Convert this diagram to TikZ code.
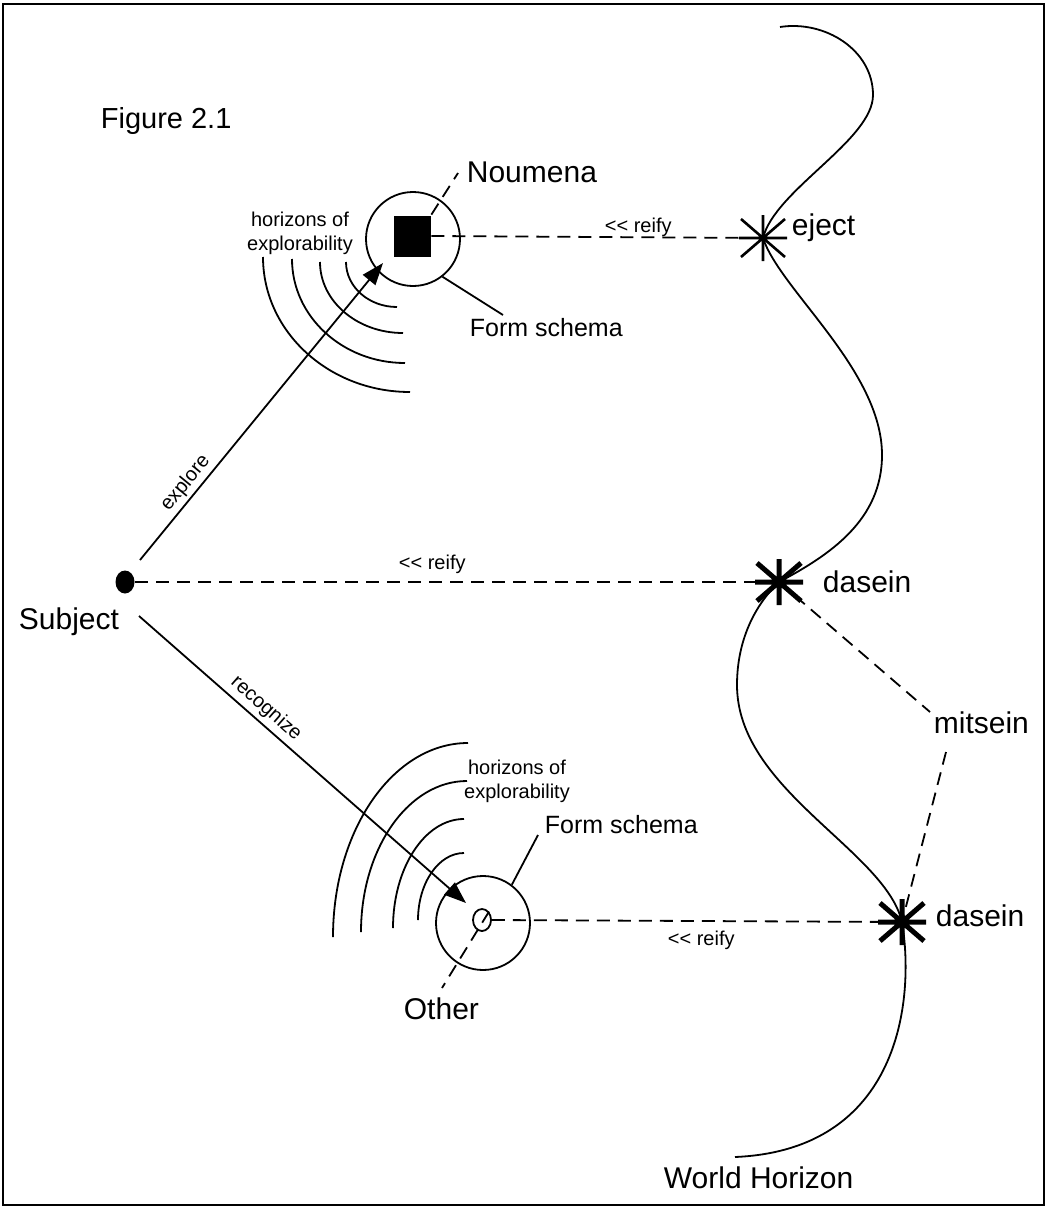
\documentclass[tikz,border=0pt]{standalone}
\usepackage{fontspec}
\setmainfont{Liberation Sans}
\usetikzlibrary{arrows.meta,shapes.geometric,calc}

\begin{document}
\begin{tikzpicture}[
x=1pt, y=-1pt,
line width=1.8pt,
lbl/.style={inner sep=0pt, anchor=base west, font=\fontsize{30}{36}\selectfont},
midlbl/.style={lbl, font=\fontsize{25}{30}\selectfont},
smalllbl/.style={inner sep=0pt, font=\fontsize{20}{24}\selectfont},
link/.style={dash pattern=on 13pt off 8pt},
arrowln/.style={-{Triangle[length=22pt,width=16pt]}},
schema/.style={draw, circle, minimum size=94pt, inner sep=0pt},
dot/.style={ellipse, inner sep=0pt, minimum width=19pt, minimum height=23pt}
]
\useasboundingbox (0,0) rectangle (1047,1207);
\draw[line width=2pt] (3,4) rectangle (1044,1205);

\node[lbl, font=\fontsize{29}{35}\selectfont] (fig) at (100,128) {Figure 2.1};

% the world horizon and the points on it
\coordinate (eject) at (763,238);
\coordinate (daseinA) at (779,582);
\coordinate (daseinB) at (902,922);
\draw (780,27) .. controls (825,20) and (873,50) .. (873,95)
  .. controls (873,140) and (775,190) .. (eject)
  .. controls (780,290) and (882,370) .. (882,455)
  .. controls (882,520) and (830,555) .. (daseinA)
  .. controls (755,605) and (737,640) .. (737,685)
  .. controls (737,790) and (885,850) .. (daseinB)
  .. controls (915,1000) and (900,1150) .. (735,1157);

% subject
\node[dot, fill=black] (subject) at (125,582) {};
\node[lbl] (subject-lbl) at (18,629) {Subject};

% noumena with its form schema
\node[schema] (fsa) at (413,239) {};
\node[fill=black, inner sep=0pt, minimum width=37pt, minimum height=41pt] (noumena) at (412,236) {};
\node[lbl] (noumena-lbl) at (466,182) {Noumena};
\node[midlbl] (fsa-lbl) at (469,336) {Form schema};
\coordinate (nou-tip) at (458,173);
\coordinate (fsa-tip) at (503,315);
\draw[link] (noumena.north east) -- (nou-tip);
\draw (fsa.-52) -- (fsa-tip);
\node[smalllbl, align=center] (hza) at (300,233) {horizons of\\explorability};
\foreach \sx/\sy/\rx/\ry in {263/257/147/135, 292/259/113/104, 320/262/83/71, 346/262/51/45}
  \draw (\sx,\sy) arc[start angle=180, end angle=270, x radius=\rx pt, y radius=\ry pt];

% the other with its form schema
\node[schema] (fsb) at (483,923) {};
\node[dot, draw, minimum width=18pt, minimum height=22pt] (other) at (482,920) {};
\node[lbl] (other-lbl) at (403,1019) {Other};
\node[midlbl] (fsb-lbl) at (544,833) {Form schema};
\coordinate (oth-tip) at (442,988);
\coordinate (fsb-tip) at (538,835);
\draw[link] (other.north east) -- (oth-tip);
\draw (fsb.53) -- (fsb-tip);
\node[smalllbl, align=center] (hzb) at (517,781) {horizons of\\explorability};
\foreach \sx/\sy/\rx/\ry in {468/743/135/194, 467/781/106/151, 464/819/71/109, 464/853/46/67}
  \draw (\sx,\sy) arc[start angle=90, end angle=180, x radius=\rx pt, y radius=\ry pt];

% explore / recognize
\coordinate (exp-start) at (140,560);
\coordinate (exp-end) at (383,263);
\coordinate (rec-start) at (139,616);
\coordinate (rec-end) at (466,903);
\draw[arrowln] (exp-start) -- node[smalllbl, sloped, above=3pt, pos=0.23] {explore} (exp-end);
\draw[arrowln] (rec-start) -- node[smalllbl, sloped, above=4pt, pos=0.36] {recognize} (rec-end);

% reify links
\draw[link] (noumena.east) -- (eject);
\draw[link] (subject.east) -- (daseinA);
\draw[link] (other.east) -- (daseinB);
\node[smalllbl, anchor=base west] (reify-a) at (604,232) {{<}{<} reify};
\node[smalllbl, anchor=base west] (reify-b) at (398,569) {{<}{<} reify};
\node[smalllbl, anchor=base west] (reify-c) at (667,945) {{<}{<} reify};

% mitsein
\node[lbl] (mitsein) at (933,733) {mitsein};
\coordinate (mit-a) at (930,712);
\coordinate (mit-b) at (946,752);
\draw[link] (daseinA) -- (mit-a);
\draw[link] (mit-b) -- (daseinB);

% asterisks on the horizon
\foreach \s/\w in {eject/2.6pt, daseinA/5pt, daseinB/5pt}
  \draw[line width=\w] (\s) +(-24,0) -- +(24,0) +(0,-23) -- +(0,23)
    +(-22,-19) -- +(22,19) +(-22,19) -- +(22,-19);
\node[lbl] (eject-lbl) at (791,235) {eject};
\node[lbl] (daseinA-lbl) at (822,592) {dasein};
\node[lbl] (daseinB-lbl) at (935,926) {dasein};
\node[lbl] (world) at (663,1188) {World Horizon};
\end{tikzpicture}
\end{document}
